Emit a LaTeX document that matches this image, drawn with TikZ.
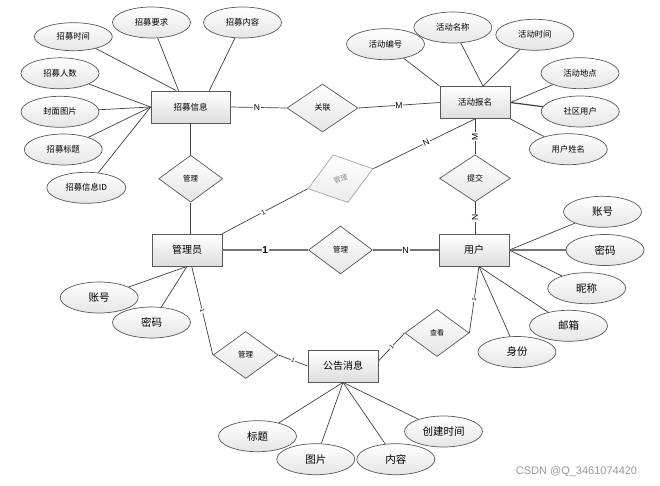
\documentclass[tikz,border=0pt]{standalone}
\usepackage{fontspec}
\setmainfont{Liberation Sans}
\newfontfamily\cjk{Noto Sans CJK SC}
\usetikzlibrary{shapes.geometric,calc}
\begin{document}
\begin{tikzpicture}[x=1pt,y=-1pt,
 ent/.style={draw=black!65, line width=0.8pt, top color=white, bottom color=black!13, minimum width=70pt, minimum height=32pt, inner sep=0pt, font=\cjk\fontsize{10}{10}\selectfont},
 entS/.style={ent, font=\cjk\fontsize{8.5}{8.5}\selectfont},
 att/.style={ellipse, draw=black!65, line width=0.7pt, top color=white, bottom color=black!10, minimum width=78pt, minimum height=31pt, inner sep=0pt, font=\cjk\fontsize{10.5}{10.5}\selectfont},
 attS/.style={att, font=\cjk\fontsize{8.3}{8.3}\selectfont},
 rel/.style={diamond, draw=black!65, line width=0.7pt, top color=white, bottom color=black!10, minimum width=64pt, minimum height=47pt, inner sep=0pt, font=\cjk\fontsize{7.5}{7.5}\selectfont},
 ln/.style={draw=black!75, line width=0.7pt},
 thk/.style={draw=black!55, line width=1.6pt},
 lab/.style={fill=white, inner sep=0.8pt, font=\fontsize{8.5}{8.5}\selectfont},
 labS/.style={fill=white, inner sep=0.5pt, font=\fontsize{6}{6}\selectfont, sloped},
]
\useasboundingbox (0,0) rectangle (660,485);

% entities
\node[entS, minimum width=79pt] (zm) at (190.5,107) {招募信息};
\node[entS] (hd) at (475,102.5) {活动报名};
\node[ent] (gly) at (187,250) {管理员};
\node[ent] (yh) at (474,250) {用户};
\node[ent] (gg) at (343,366) {公告消息};

% relations
\node[rel, minimum width=71pt, minimum height=48pt, font=\cjk\fontsize{8}{8}\selectfont] (gl) at (322.5,108) {关联};
\node[rel] (gl1) at (190.7,178.7) {管理};
\node[rel, minimum width=68pt, minimum height=50pt, rotate=17, draw=black!35, top color=white, bottom color=black!8, text=black!45, font=\cjk\fontsize{7}{7}\selectfont] (gd) at (340.5,178.7) {管理};
\node[rel, minimum width=71pt, font=\cjk\fontsize{8}{8}\selectfont] (tj) at (475,178.3) {提交};
\node[rel, minimum height=48pt] (gl2) at (340.5,250) {管理};
\node[rel, minimum width=65pt] (gl3) at (245.7,355) {管理};
\node[rel, font=\cjk\fontsize{7}{7}\selectfont] (ck) at (437,333) {查看};

% attributes of 招募信息
\node[attS, minimum height=28pt] (a1) at (73.3,36.7) {招募时间};
\node[attS] (a2) at (151.5,22.5) {招募要求};
\node[attS] (a3) at (242.5,22.5) {招募内容};
\node[attS] (a4) at (60,73.3) {招募人数};
\node[attS] (a5) at (60,111.8) {封面图片};
\node[attS] (a6) at (63.3,149.5) {招募标题};
\node[attS, minimum width=79pt] (a7) at (86.3,187.8) {招募信息ID};

% attributes of 活动报名
\node[attS] (b1) at (385.5,44.2) {活动编号};
\node[attS] (b2) at (452.8,27.5) {活动名称};
\node[attS] (b3) at (534.8,34.8) {活动时间};
\node[attS] (b4) at (580,73.2) {活动地点};
\node[attS] (b5) at (580.2,111.5) {社区用户};
\node[attS] (b6) at (568.3,149.2) {用户姓名};

% attributes of 管理员
\node[att] (c1) at (99.2,297.5) {账号};
\node[att] (c2) at (151.5,322.5) {密码};

% attributes of 用户
\node[att] (d1) at (602.5,211.8) {账号};
\node[att] (d2) at (605,250) {密码};
\node[att] (d3) at (586.7,288.2) {昵称};
\node[att] (d4) at (568.5,325.8) {邮箱};
\node[att] (d5) at (517,352) {身份};

% attributes of 公告消息
\node[att] (e1) at (257.5,436.2) {标题};
\node[att] (e2) at (315.8,459.2) {图片};
\node[att] (e3) at (395.8,459.2) {内容};
\node[att] (e4) at (443.5,431.5) {创建时间};

% attribute connectors
\draw[ln] (a1) -- (zm.131);
\draw[ln] (a2) -- (zm.126);
\draw[ln] (a3) -- (zm.41);
\draw[ln] (a4) -- (zm.west);
\draw[ln] (a5) -- (zm.west);
\draw[ln] (a6) -- (zm.west);
\draw[ln] (a7) -- (zm.west);

\draw[ln] (b1) -- (hd.north west);
\draw[ln] (b2) -- (hd.64);
\draw[ln] (b3) -- (hd.64);
\draw[ln] (b4) -- (hd.east);
\draw[ln, line width=1.2pt] (b5) -- (hd.east);
\draw[ln] (b6) -- (hd.south east);

\draw[ln] (c1) -- (gly.south);
\draw[ln] (c2) -- (gly.south);

\coordinate (yhs) at ($(yh.south)+(5,0)$);
\draw[ln] (d1) -- (yh.east);
\draw[thk] (d2) -- (yh.east);
\draw[ln] (d3) -- (yh.east);
\draw[ln] (d4) -- (yhs);
\draw[ln] (d5) -- (yhs);

\draw[ln] (e1) -- (gg.south);
\draw[ln] (e2) -- (gg.south);
\draw[ln] (e3) -- (gg.south);
\draw[ln] (e4) -- (gg.south);

% relationship connectors
\draw[ln] (zm.east) -- node[lab, pos=0.47] (l1) {N} (gl.west);
\draw[ln] (gl.east) -- node[lab] (l2) {M} (hd.west);
\draw[ln] (hd.south) -- node[lab, sloped, pos=0.48] (l3) {N} (gd.east);
\draw[ln] (gd.west) -- node[lab, sloped, pos=0.52, font=\fontsize{7}{7}\selectfont] (l4) {1} (gly.north east);
\draw[ln] (hd.south -| tj.north) -- node[lab, rotate=90] (l5) {M} (tj.north);
\draw[ln] (tj.south) -- node[lab, rotate=90] (l6) {N} (tj.south |- yh.north);
\draw[ln] (gl1.north) -- (gl1.north |- zm.south);
\draw[ln] (gl1.south) -- (gl1.south |- gly.north);
\draw[thk] (gly.east) -- node[lab, font=\fontsize{10}{10}\selectfont\bfseries] (l7) {1} (gl2.west);
\draw[thk] (gl2.east) -- node[lab, font=\fontsize{9}{9}\selectfont] (l8) {N} (yh.west);
\draw[ln] ($(gly.south)+(4.7,0)$) -- node[labS] (l9) {1} (gl3.west);
\draw[ln] (gl3.east) -- node[labS] (l10) {1} (gg.west);
\draw[ln] (yhs) -- node[labS] (l11) {1} (ck.east);
\draw[ln] (ck.west) -- node[labS] (l12) {1} (gg.8);

% watermark
\node[text=black!40, font=\fontsize{11}{11}\selectfont] (wm) at (576.5,472) {CSDN @Q\_3461074420};
\end{tikzpicture}
\end{document}
